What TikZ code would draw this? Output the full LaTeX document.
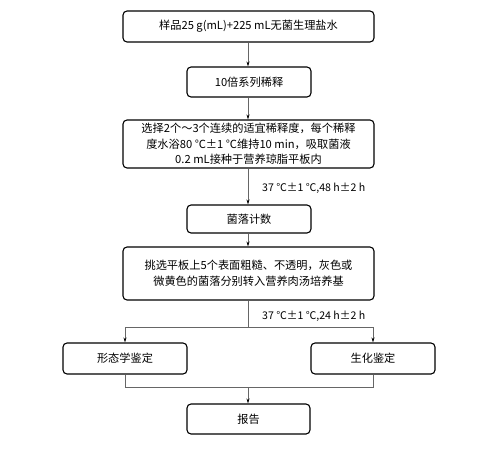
\documentclass[tikz,border=0pt]{standalone}
\usepackage{fontspec}
\setmainfont{Noto Sans CJK SC}
\usetikzlibrary{arrows.meta}
\begin{document}
\begin{tikzpicture}[x=1pt,y=-1pt,
  box/.style={draw=black,line width=1.1pt,rounded corners=4pt,inner sep=0pt,align=center,font=\fontsize{11.2}{15.5}\selectfont},
  conn/.style={draw=black!60,line width=0.6pt},
  arr/.style={conn,-{Stealth[length=5pt,width=3pt,black]}},
  lbl/.style={font=\fontsize{10.6}{12}\selectfont,anchor=west,inner sep=0pt}]
\useasboundingbox (0,0) rectangle (500,452);
\node[box,minimum width=251pt,minimum height=31pt] (b1) at (248.5,26.5) {样品25 g(mL)+225 mL无菌生理盐水};
\node[box,minimum width=124pt,minimum height=30pt] (b2) at (249,82) {10倍系列稀释};
\node[box,minimum width=251pt,minimum height=48pt] (b3) at (248.5,144) {选择2个～3个连续的适宜稀释度，每个稀释\\度水浴80 ℃±1 ℃维持10 min，吸取菌液\\0.2 mL接种于营养琼脂平板内};
\node[box,minimum width=124pt,minimum height=28pt] (b4) at (249,219) {菌落计数};
\node[box,minimum width=251pt,minimum height=53pt] (b5) at (248.5,273.5) {挑选平板上5个表面粗糙、不透明，灰色或\\微黄色的菌落分别转入营养肉汤培养基};
\node[box,minimum width=124pt,minimum height=31pt] (bl) at (125,358.5) {形态学鉴定};
\node[box,minimum width=124pt,minimum height=31pt] (br) at (373,358.5) {生化鉴定};
\node[box,minimum width=123pt,minimum height=30pt] (b6) at (248.5,419) {报告};
\node[lbl] (l1) at (262,188) {37 ℃±1 ℃,48 h±2 h};
\node[lbl] (l2) at (262,316) {37 ℃±1 ℃,24 h±2 h};
\coordinate (s) at (248,327);
\coordinate (j) at (248,387);
\draw[arr] (b1.south -| s) -- (b2.north -| s);
\draw[arr] (b2.south -| s) -- (b3.north -| s);
\draw[arr] (b3.south -| s) -- (b4.north -| s);
\draw[arr] (b4.south -| s) -- (b5.north -| s);
\draw[conn] (b5.south -| s) -- (s);
\draw[arr] (s) -| (bl.north);
\draw[arr] (s) -| (br.north);
\draw[conn] (bl.south) |- (j);
\draw[conn] (br.south) |- (j);
\draw[arr] (j) -- (b6.north -| j);
\end{tikzpicture}
\end{document}
